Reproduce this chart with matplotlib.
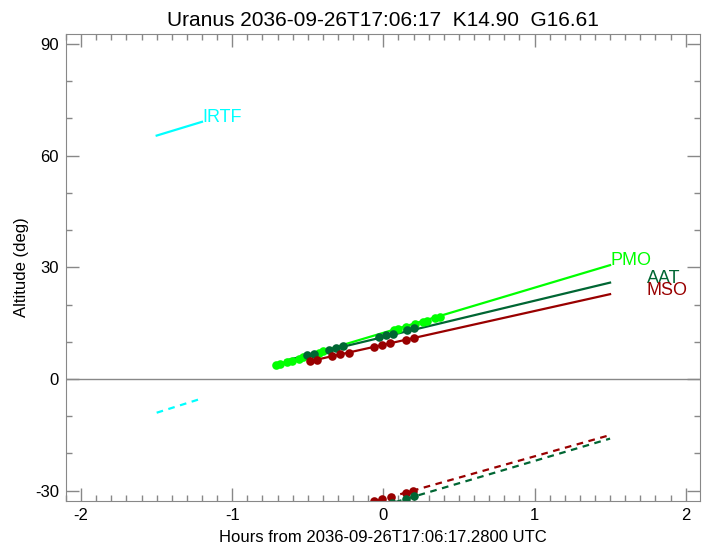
import matplotlib as mpl
import matplotlib.pyplot as plt
import numpy as np
from matplotlib.ticker import MultipleLocator

mpl.rcParams["font.family"] = ["Liberation Sans", "DejaVu Sans"]
mpl.rcParams["font.size"] = 11
mpl.rcParams["axes.unicode_minus"] = False

# solid tracks (above horizon): [start hour, end hour], [start alt, end alt]
irtf_x = [-1.5, -1.2]
irtf_alt = [65.4, 69.1]
pmo_x = [-0.711, 1.5]
pmo_alt = [3.8, 30.6]
aat_x = [-0.645, 1.5]
aat_alt = [5.0, 25.9]
mso_x = [-0.486, 1.5]
mso_alt = [4.8, 22.8]

# dashed tracks
irtf_dash_x = [-1.5, -1.2]
irtf_dash_alt = [-9.05, -5.2]
mso_dash_x = [-0.2, 1.5]
mso_dash_alt = [-34.5, -15.05]
aat_dash_x = [0.0, 1.5]
aat_dash_alt = [-34.0, -16.0]

# observation dots
pmo_dot_x = [-0.711, -0.684, -0.636, -0.607, -0.557, -0.530, -0.424, -0.398,
             0.071, 0.094, 0.153, 0.208, 0.263, 0.286, 0.340, 0.374]
pmo_dot_alt = [3.8, 4.1, 4.5, 4.9, 5.5, 5.8, 7.1, 7.4,
               13.1, 13.4, 14.1, 14.8, 15.4, 15.7, 16.4, 16.8]
aat_dot_x = [-0.508, -0.458, -0.360, -0.314, -0.270, -0.030, 0.015, 0.061, 0.155, 0.204]
aat_dot_alt = [6.4, 6.8, 7.8, 8.3, 8.8, 11.2, 11.7, 12.2, 13.1, 13.6]
mso_dot_x = [-0.486, -0.438, -0.340, -0.286, -0.230, -0.061, -0.010, 0.043, 0.149, 0.200]
mso_dot_alt = [4.8, 5.2, 6.1, 6.6, 7.1, 8.7, 9.2, 9.6, 10.6, 11.1]
mso_ddot_x = [-0.063, -0.008, 0.048, 0.149, 0.197]
mso_ddot_alt = [-32.8, -32.2, -31.6, -30.5, -29.95]
aat_ddot_x = [0.054, 0.153, 0.204]
aat_ddot_alt = [-33.2, -32.1, -31.5]

c_irtf = "#00ffff"
c_pmo = "#00ff00"
c_aat = "#006633"
c_mso = "#990000"
gray = "#888888"

fig = plt.figure(figsize=(7.08, 5.44), dpi=100)
ax = fig.add_axes([0.0932, 0.079, 0.8955, 0.8585])

ax.axhline(0, color=gray, linewidth=1.0)

lw = 1.6
ax.plot(irtf_x, irtf_alt, color=c_irtf, linewidth=lw)
ax.plot(pmo_x, pmo_alt, color=c_pmo, linewidth=lw)
ax.plot(aat_x, aat_alt, color=c_aat, linewidth=lw)
ax.plot(mso_x, mso_alt, color=c_mso, linewidth=lw)

dash = (0, (3.0, 2.5))
ax.plot(irtf_dash_x, irtf_dash_alt, color=c_irtf, linewidth=lw, linestyle=dash)
ax.plot(mso_dash_x, mso_dash_alt, color=c_mso, linewidth=lw, linestyle=dash)
ax.plot(aat_dash_x, aat_dash_alt, color=c_aat, linewidth=lw, linestyle=dash)

ms = 6.2
ax.plot(pmo_dot_x, pmo_dot_alt, "o", color=c_pmo, markersize=ms, markeredgewidth=0)
ax.plot(aat_dot_x, aat_dot_alt, "o", color=c_aat, markersize=ms, markeredgewidth=0)
ax.plot(mso_dot_x, mso_dot_alt, "o", color=c_mso, markersize=ms, markeredgewidth=0)
ax.plot(mso_ddot_x, mso_ddot_alt, "o", color=c_mso, markersize=ms, markeredgewidth=0)
ax.plot(aat_ddot_x, aat_ddot_alt, "o", color=c_aat, markersize=ms, markeredgewidth=0)

# site labels
ax.text(-1.2, 69.1, "IRTF", color=c_irtf, fontsize=13)
ax.text(1.5, 30.6, "PMO", color=c_pmo, fontsize=13)
ax.text(1.742, 25.9, "AAT", color=c_aat, fontsize=13)
ax.text(1.742, 22.6, "MSO", color=c_mso, fontsize=13)

ax.set_xlim(-2.1, 2.095)
ax.set_ylim(-32.77, 92.69)
ax.xaxis.set_major_locator(MultipleLocator(1))
ax.xaxis.set_minor_locator(MultipleLocator(0.1))
ax.yaxis.set_major_locator(MultipleLocator(30))
ax.yaxis.set_minor_locator(MultipleLocator(10))
ax.tick_params(which="both", direction="in", top=True, right=True, color=gray)
ax.tick_params(which="major", length=9.5, width=1.0, labelsize=12, pad=5)
ax.tick_params(which="minor", length=4, width=1.0)
for s in ax.spines.values():
    s.set_color(gray)

ax.set_xlabel("Hours from 2036-09-26T17:06:17.2800 UTC", fontsize=12, labelpad=5)
ax.set_ylabel("Altitude (deg)", fontsize=12, labelpad=4)
ax.set_title("Uranus 2036-09-26T17:06:17  K14.90  G16.61", fontsize=15, pad=6)

plt.savefig("out.png", dpi=100)
